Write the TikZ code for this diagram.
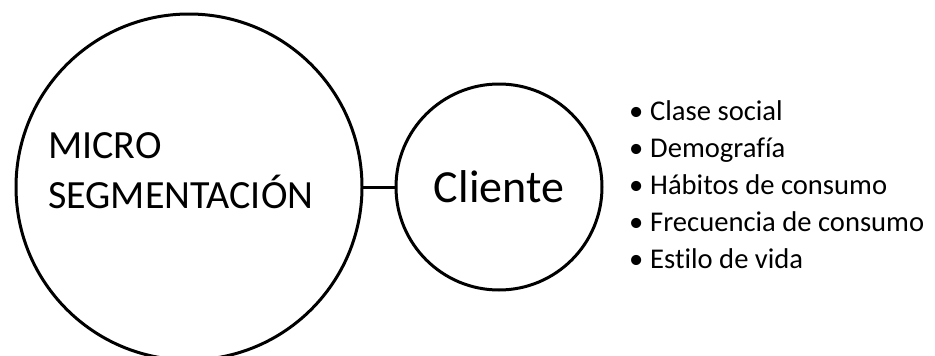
\documentclass[tikz,border=0pt]{standalone}
\usepackage{fontspec}
\setmainfont[Ligatures={NoCommon}]{Carlito}
\begin{document}
\begin{tikzpicture}[x=1pt,y=-1pt,
  ring/.style={draw=black, line width=3pt, circle, inner sep=0pt, outer sep=0pt},
  link/.style={draw=black, line width=3pt}]
\useasboundingbox (0,0) rectangle (935,356);
% main circle and its caption
\node[ring, minimum size=346pt] (micro) at (189,187) {};
\node[anchor=base west, align=left, inner sep=0pt, font=\fontsize{40}{50}\selectfont]
  (microtxt) at (48,208) {MICRO\\SEGMENTACIÓN};
% client circle
\node[ring, minimum size=206pt, font=\fontsize{46}{55}\selectfont] (cli) at (499,187) {Cliente};
\draw[link] (micro.east) -- (cli.west);
% list of attributes
\node[anchor=base west, align=left, inner sep=0pt, font=\fontsize{28.6}{37}\selectfont]
  (attrs) at (629,268) {%
  \makebox[21pt][l]{•}Clase social\\
  \makebox[21pt][l]{•}Demografía\\
  \makebox[21pt][l]{•}Hábitos de consumo\\
  \makebox[21pt][l]{•}Frecuencia de consumo\\
  \makebox[21pt][l]{•}Estilo de vida};
\end{tikzpicture}
\end{document}
